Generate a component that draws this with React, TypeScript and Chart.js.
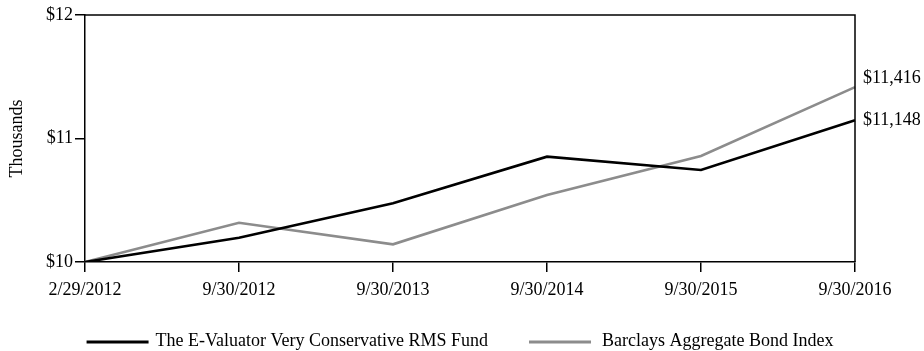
import React, { useEffect, useRef } from "react";
import { Chart, registerables } from "chart.js";

Chart.register(...registerables);

// Growth of a $10,000 investment
const periods: string[] = [
  "2/29/2012",
  "9/30/2012",
  "9/30/2013",
  "9/30/2014",
  "9/30/2015",
  "9/30/2016",
];
const fundValues: number[] = [10000, 10197, 10475, 10853, 10745, 11148];
const indexValues: number[] = [10000, 10318, 10143, 10543, 10858, 11416];

const fundName = "The E-Valuator Very Conservative RMS Fund";
const indexName = "Barclays Aggregate Bond Index";

const SERIF = "'Liberation Serif', 'Times New Roman', Times, serif";
const FONT_SIZE = 18;

// Frame on the top and right of the plot area, ending values and the legend
const decorations = {
  id: "decorations",
  afterDatasetsDraw(chart: any) {
    const { ctx, chartArea } = chart;
    ctx.save();
    ctx.strokeStyle = "#000";
    ctx.lineWidth = 1.5;
    ctx.beginPath();
    ctx.moveTo(chartArea.left, chartArea.top);
    ctx.lineTo(chartArea.right, chartArea.top);
    ctx.lineTo(chartArea.right, chartArea.bottom);
    ctx.stroke();

    // value labels at the last point of each series, kept apart vertically
    ctx.font = `${FONT_SIZE}px ${SERIF}`;
    ctx.fillStyle = "#000";
    ctx.textAlign = "left";
    ctx.textBaseline = "middle";
    const ends = chart.data.datasets
      .map((ds: any, i: number) => {
        const meta = chart.getDatasetMeta(i);
        const last = meta.data[meta.data.length - 1];
        const v = ds.data[ds.data.length - 1];
        return { text: "$" + v.toLocaleString("en-US"), y: last.y };
      })
      .sort((a: any, b: any) => b.y - a.y);
    const minGap = 42;
    for (let i = 1; i < ends.length; i++) {
      if (ends[i - 1].y - ends[i].y < minGap) ends[i].y = ends[i - 1].y - minGap;
    }
    ends.forEach((e: any) => ctx.fillText(e.text, chartArea.right + 8, e.y));

    // legend
    const lineLen = 62;
    const gaps = [7, 11];
    const itemGap = 41;
    const items = chart.data.datasets.map((ds: any, i: number) => ({
      label: ds.label,
      color: ds.borderColor,
      gap: gaps[i] ?? 9,
      w: ctx.measureText(ds.label).width,
    }));
    const total =
      items.reduce((s: number, it: any) => s + lineLen + it.gap + it.w, 0) +
      itemGap * (items.length - 1);
    let x = (chart.width - total) / 2 - 2;
    const y = 341;
    items.forEach((it: any) => {
      ctx.strokeStyle = it.color;
      ctx.lineWidth = 3;
      ctx.beginPath();
      ctx.moveTo(x, y + 1);
      ctx.lineTo(x + lineLen, y + 1);
      ctx.stroke();
      ctx.fillStyle = "#000";
      ctx.fillText(it.label, x + lineLen + it.gap, y);
      x += lineLen + it.gap + it.w + itemGap;
    });
    ctx.restore();
  },
};

export default function App() {
  const canvasRef = useRef<HTMLCanvasElement | null>(null);

  useEffect(() => {
    if (!canvasRef.current) return;
    const chart = new Chart(canvasRef.current, {
      type: "line",
      data: {
        labels: periods,
        datasets: [
          {
            label: fundName,
            data: fundValues,
            borderColor: "#000000",
            backgroundColor: "#000000",
            borderWidth: 2.6,
            pointRadius: 0,
            tension: 0,
          },
          {
            label: indexName,
            data: indexValues,
            borderColor: "#8c8c8c",
            backgroundColor: "#8c8c8c",
            borderWidth: 2.6,
            pointRadius: 0,
            tension: 0,
          },
        ],
      },
      options: {
        animation: false,
        responsive: true,
        maintainAspectRatio: false,
        layout: { padding: { left: 0, top: 15, right: 69, bottom: 0 } },
        plugins: {
          legend: { display: false },
          tooltip: { enabled: false },
        },
        scales: {
          x: {
            offset: false,
            grid: {
              display: true,
              drawOnChartArea: false,
              drawTicks: true,
              tickLength: 10,
              color: "#000",
              lineWidth: 1.5,
            },
            border: { display: true, color: "#000", width: 1.5 },
            ticks: {
              color: "#000",
              padding: 7,
              maxRotation: 0,
              autoSkip: false,
              font: { family: SERIF, size: FONT_SIZE },
            },
            afterFit(scale: any) {
              scale.height = 89;
            },
          },
          y: {
            min: 10000,
            max: 12000,
            grid: {
              display: true,
              drawOnChartArea: false,
              drawTicks: true,
              tickLength: 10,
              color: "#000",
              lineWidth: 1.5,
            },
            border: { display: true, color: "#000", width: 1.5 },
            ticks: {
              stepSize: 1000,
              color: "#000",
              padding: 2,
              font: { family: SERIF, size: FONT_SIZE },
              callback: (v: any) => "$" + Number(v) / 1000,
            },
            title: {
              display: true,
              text: "Thousands",
              color: "#000",
              padding: { top: 6, bottom: 0 },
              font: { family: SERIF, size: FONT_SIZE, weight: "normal" },
            },
            afterFit(scale: any) {
              scale.width = 85;
            },
          },
        },
      },
      plugins: [decorations],
    });
    return () => chart.destroy();
  }, []);

  return (
    <div
      style={{
        position: "absolute",
        left: 0,
        top: 0,
        width: 924,
        height: 351,
        background: "#fff",
      }}
    >
      <canvas ref={canvasRef} />
    </div>
  );
}
